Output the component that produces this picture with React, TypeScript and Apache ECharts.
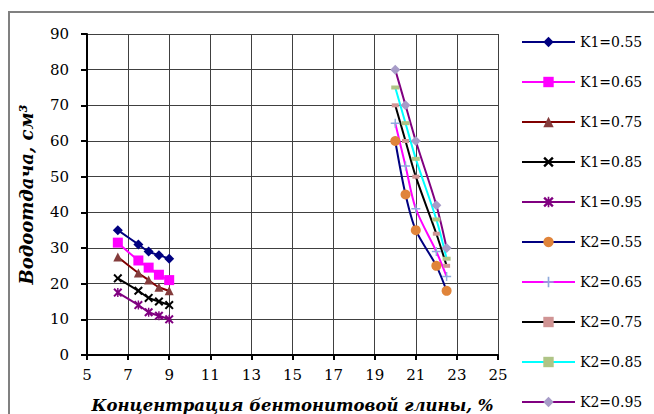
import React, { useEffect, useRef } from "react";
import * as echarts from "echarts";

const xK1 = [6.5, 7.5, 8, 8.5, 9];
const xK2 = [20, 20.5, 21, 22, 22.5];

const K1_055 = [35, 31, 29, 28, 27];
const K1_065 = [31.5, 26.5, 24.5, 22.5, 21];
const K1_075 = [27.5, 23, 21, 19, 18];
const K1_085 = [21.5, 18, 16, 15, 14];
const K1_095 = [17.5, 14, 12, 11, 10];

const K2_055 = [60, 45, 35, 25, 18];
const K2_065 = [65, 53, 41, 29, 22];
const K2_075 = [70, 60, 50, 34, 25];
const K2_085 = [75, 65, 55, 38, 27];
const K2_095 = [80, 70, 60, 42, 30];

const xTitle = "Концентрация бентонитовой глины, %";
const yTitle = "Водоотдача, см³";

const X_PATH = "path://M0,1.6L1.6,0L5,3.4L8.4,0L10,1.6L6.6,5L10,8.4L8.4,10L5,6.6L1.6,10L0,8.4L3.4,5Z";
const AST_PATH = "path://M0,1.6L1.6,0L5,3.4L8.4,0L10,1.6L6.6,5L10,8.4L8.4,10L5,6.6L1.6,10L0,8.4L3.4,5Z M4.2,0L5.8,0L5.8,10L4.2,10Z";
const PLUS_PATH = "path://M4.2,0H5.8V4.2H10V5.8H5.8V10H4.2V5.8H0V4.2H4.2Z";

type Spec = { name: string; xs: number[]; ys: number[]; line: string; mark: string; symbol: string; size: number | number[] };

const specs: Spec[] = [
  { name: "K1=0.55", xs: xK1, ys: K1_055, line: "#000080", mark: "#000080", symbol: "diamond", size: 10 },
  { name: "K1=0.65", xs: xK1, ys: K1_065, line: "#FF00FF", mark: "#FF00FF", symbol: "rect", size: 10 },
  { name: "K1=0.75", xs: xK1, ys: K1_075, line: "#800000", mark: "#843C3C", symbol: "triangle", size: 9 },
  { name: "K1=0.85", xs: xK1, ys: K1_085, line: "#000000", mark: "#000000", symbol: X_PATH, size: 9 },
  { name: "K1=0.95", xs: xK1, ys: K1_095, line: "#800080", mark: "#800080", symbol: AST_PATH, size: 9 },
  { name: "K2=0.55", xs: xK2, ys: K2_055, line: "#000080", mark: "#E0843A", symbol: "circle", size: 10 },
  { name: "K2=0.65", xs: xK2, ys: K2_065, line: "#FF00FF", mark: "#8FAADC", symbol: PLUS_PATH, size: 9 },
  { name: "K2=0.75", xs: xK2, ys: K2_075, line: "#000000", mark: "#D09494", symbol: "rect", size: [7, 4] },
  { name: "K2=0.85", xs: xK2, ys: K2_085, line: "#00FFFF", mark: "#AFC486", symbol: "rect", size: [8, 4] },
  { name: "K2=0.95", xs: xK2, ys: K2_095, line: "#800080", mark: "#A79CC8", symbol: "diamond", size: 10 },
];

export default function App() {
  const ref = useRef<HTMLDivElement>(null);
  useEffect(() => {
    if (!ref.current) return;
    const chart = echarts.init(ref.current, null, { renderer: "svg" });
    const font = "DejaVu Serif";
    chart.setOption({
      animation: false,
      backgroundColor: "#ffffff",
      textStyle: { fontFamily: font },
      graphic: [
        {
          type: "rect",
          shape: { x: 9, y: 12, width: 700, height: 500 },
          style: { fill: "none", stroke: "#808080", lineWidth: 2 },
          silent: true,
        },
      ],
      grid: { left: 87, right: 156, top: 34, bottom: 59, containLabel: false, outerBoundsMode: "none" },
      legend: {
        orient: "vertical",
        left: 521,
        top: 35,
        padding: 0,
        itemWidth: 53,
        itemHeight: 13,
        itemGap: 26,
        selectedMode: false,
        data: specs.map((s) => s.name),
        textStyle: { fontFamily: font, fontSize: 14, color: "#000", lineHeight: 14, padding: 0 },
      },
      xAxis: {
        type: "value",
        min: 5,
        max: 25,
        interval: 2,
        name: xTitle,
        nameLocation: "middle",
        nameGap: 42,
        nameTextStyle: { fontFamily: font, fontSize: 16.5, fontWeight: "bold", fontStyle: "italic", color: "#000" },
        axisLine: { show: true, onZero: false, lineStyle: { color: "#000", width: 2 } },
        axisTick: { show: true, length: 5, lineStyle: { color: "#000", width: 2 } },
        axisLabel: { margin: 12, fontFamily: font, fontSize: 15, color: "#000" },
        splitLine: { show: true, lineStyle: { color: "#404040", width: 1 } },
      },
      yAxis: {
        type: "value",
        min: 0,
        max: 90,
        interval: 10,
        name: yTitle,
        nameLocation: "middle",
        nameGap: 52,
        nameTextStyle: { fontFamily: font, fontSize: 18, fontWeight: "bold", fontStyle: "italic", color: "#000" },
        axisLine: { show: true, onZero: false, lineStyle: { color: "#000", width: 2 } },
        axisTick: { show: true, length: 6, lineStyle: { color: "#000", width: 2 } },
        axisLabel: { margin: 18, fontFamily: font, fontSize: 15, color: "#000" },
        splitLine: { show: true, lineStyle: { color: "#404040", width: 1 } },
      },
      series: specs.map((s) => ({
        name: s.name,
        type: "line",
        data: s.xs.map((x, i) => [x, s.ys[i]]),
        smooth: 0.3,
        symbol: s.symbol,
        symbolSize: s.size,
        showAllSymbol: true,
        lineStyle: { color: s.line, width: 2 },
        itemStyle: { color: s.mark, borderWidth: 0 },
        emphasis: { disabled: true },
      })),
    });
    return () => chart.dispose();
  }, []);
  return <div ref={ref} style={{ position: "absolute", left: 0, top: 0, width: 654, height: 414 }} />;
}
